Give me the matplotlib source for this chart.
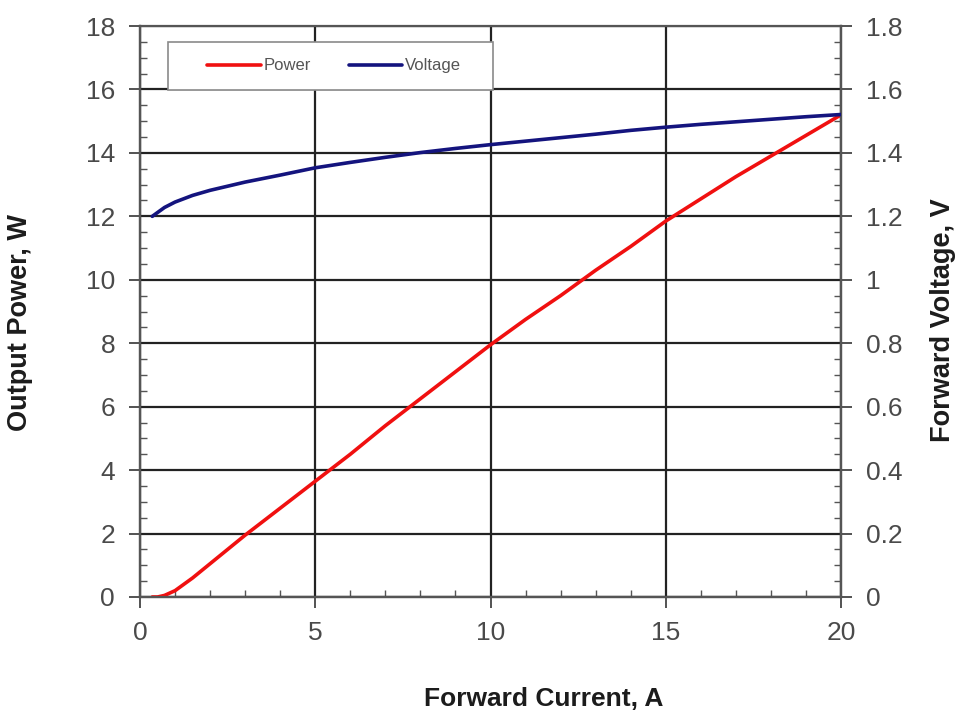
import matplotlib
matplotlib.use("Agg")
import matplotlib.pyplot as plt
from matplotlib.ticker import MultipleLocator, FuncFormatter
from matplotlib.patches import Rectangle

plt.rcParams['font.family'] = ['Liberation Sans', 'DejaVu Sans']

# ---- data ----
current = [0.35, 0.5, 0.7, 1.0, 1.5, 2, 3, 4, 5, 6, 7, 8, 9, 10, 11, 12, 13, 14, 15, 16, 17, 18, 19, 20]
power = [0.0, 0.0, 0.05, 0.2, 0.6, 1.05, 1.95, 2.8, 3.65, 4.5, 5.4, 6.25, 7.1, 7.95, 8.75, 9.5,
         10.3, 11.05, 11.85, 12.55, 13.25, 13.9, 14.55, 15.2]
voltage = [1.200, 1.212, 1.228, 1.245, 1.266, 1.282, 1.308, 1.330, 1.353, 1.370, 1.386, 1.401,
           1.414, 1.426, 1.437, 1.448, 1.459, 1.471, 1.481, 1.490, 1.498, 1.506, 1.514, 1.521]

series_names = ["Power", "Voltage"]
x_label = "Forward Current, A"
y_label = "Output Power, W"
y2_label = "Forward Voltage, V"

RED = "#f01010"
BLUE = "#14147e"
TICK_C = "#4a4a4a"
LAB_C = "#1c1c1c"

fig = plt.figure(figsize=(9.57, 7.15), dpi=100)
fig.subplots_adjust(left=140/957, right=841/957, bottom=1-597/715, top=1-26/715)
ax = fig.add_subplot(111)
ax2 = ax.twinx()

l1, = ax.plot(current, power, color=RED, lw=2.6, solid_capstyle='round',
              solid_joinstyle='round', zorder=5)
l2, = ax2.plot(current, voltage, color=BLUE, lw=2.6, solid_capstyle='round',
               solid_joinstyle='round', zorder=5)

ax.set_xlim(0, 20)
ax.set_ylim(0, 18)
ax2.set_ylim(0, 1.8)

ax.xaxis.set_major_locator(MultipleLocator(5))
ax.xaxis.set_minor_locator(MultipleLocator(1))
ax.yaxis.set_major_locator(MultipleLocator(2))
ax.yaxis.set_minor_locator(MultipleLocator(0.5))
ax2.yaxis.set_major_locator(MultipleLocator(0.2))
ax2.yaxis.set_minor_locator(MultipleLocator(0.05))
ax2.yaxis.set_major_formatter(FuncFormatter(lambda v, p: f"{v:g}"))

ax.grid(True, which='major', color='#222222', lw=1.6)
ax.set_axisbelow(True)

for a in (ax, ax2):
    for s in a.spines.values():
        s.set_color('#555555')
        s.set_linewidth(1.6)
ax.spines['top'].set_color('#888888')
ax.spines['top'].set_linewidth(1.2)

ax.tick_params(axis='both', which='major', direction='out', length=8, width=1.3,
               colors='#444444', labelcolor=TICK_C, labelsize=19)
ax.tick_params(axis='both', which='minor', direction='in', length=5, width=1.0, colors='#555555')
ax.tick_params(axis='y', which='major', pad=10)
ax.tick_params(axis='x', which='major', pad=9)
ax.tick_params(top=False, right=False, which='both')
ax2.tick_params(axis='y', which='major', direction='out', length=8, width=1.3,
                colors='#444444', labelcolor=TICK_C, labelsize=19, pad=10)
ax2.tick_params(axis='y', which='minor', direction='in', length=5, width=1.0, colors='#555555')

ax.set_xlabel(x_label, fontsize=19, fontweight='bold', color=LAB_C)
ax.xaxis.set_label_coords(0.576, -0.157)
ax.set_ylabel(y_label, fontsize=19.5, fontweight='bold', color=LAB_C)
ax.yaxis.set_label_coords(-0.1526, 0.48)
ax2.set_ylabel(y2_label, fontsize=19.5, fontweight='bold', color=LAB_C, rotation=90)
ax2.yaxis.set_label_coords(1.127, 0.485)

# legend box (opaque, covers gridlines)
box = Rectangle(((168-140)/701, (597-90)/571), (493-168)/701, (90-42)/571,
                transform=ax2.transAxes, facecolor='white', edgecolor='#8a8a8a',
                lw=1.2, zorder=3, clip_on=False)
ax2.add_patch(box)
leg = ax2.legend([l1, l2], series_names, loc='center', bbox_to_anchor=(0.277, 0.93),
                 bbox_transform=ax2.transAxes, ncol=2, frameon=False, fontsize=12,
                 handlelength=3.2, handletextpad=0.15, columnspacing=2.3)
for t in leg.get_texts():
    t.set_color('#555555')
leg.set_zorder(6)

fig.savefig("out.png", dpi=100)
